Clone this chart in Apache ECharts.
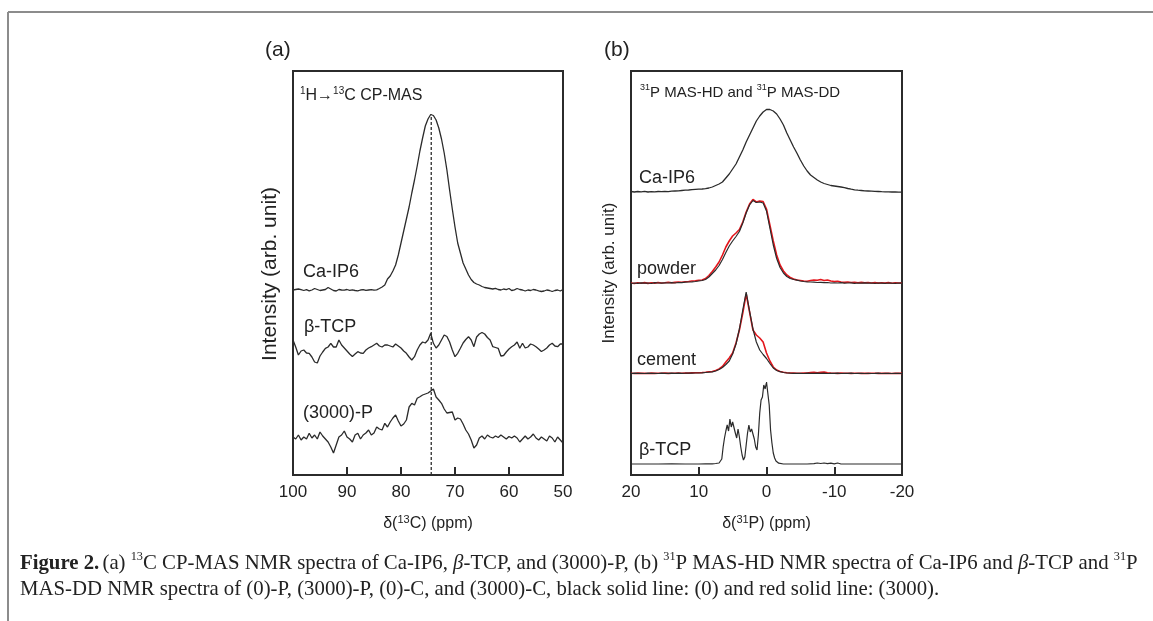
<!DOCTYPE html>
<html>
<head>
<meta charset="utf-8">
<script src="https://cdn.jsdelivr.net/npm/echarts@6/dist/echarts.min.js"></script>
<style>
html,body{margin:0;padding:0;background:#fff;}
#c{width:1153px;height:621px;}
</style>
</head>
<body>
<div id="c"></div>
<script>
// ---------- Panel (a): 13C CP-MAS, chemical shift (ppm) ----------
const ppmA = [
 100,99.5,99,98.5,98,97.5,97,96.5,96,95.5,
 95,94.5,94,93.5,93,92.5,92,91.5,91,90.5,
 90,89.5,89,88.5,88,87.5,87,86.5,86,85.5,
 85,84.5,84,83.5,83,82.5,82,81.5,81,80.5,
 80,79.5,79,78.5,78,77.5,77,76.5,76,75.5,
 75,74.5,74,73.5,73,72.5,72,71.5,71,70.5,
 70,69.5,69,68.5,68,67.5,67,66.5,66,65.5,
 65,64.5,64,63.5,63,62.5,62,61.5,61,60.5,
 60,59.5,59,58.5,58,57.5,57,56.5,56,55.5,
 55,54.5,54,53.5,53,52.5,52,51.5,51,50.5,
 50];
// stacked intensities (arb. unit, offset as in figure)
const caIP6_C = [
 185,185.5,186,185.3,184.5,185.3,184.2,185,186.5,185.5,
 184.5,185,185.5,187.5,186,184.5,184,185.5,185,184.8,
 185.5,184.7,185.2,184.5,184.2,185,185.3,184.6,185,185.3,
 184.8,185.2,186.5,188,190,196,199,204,210,220,
 232,244,256,268,282,295,309,324,337,349,
 356,360.5,359.5,355,347,336,322,305,285,266,
 248,232,222,212,206,200,195.5,192.5,191,190,
 188.5,187.5,187,186.5,186,186.7,185.5,185,186,185.3,
 186.5,184.5,185.2,186.5,185.5,185,184,185,184.5,185.5,
 185,184.2,183.5,184,185,184.5,183.5,184.5,185,184,
 185.5];
const bTCP_C = [
 135,128,120,124,125,122,121.7,118,113,112,
 119,123,126.7,128,131.7,128,128,135,130,127,
 124,121,118.5,121,123.3,122,121.7,125,127,128.3,
 130,131.7,129,128,130,130,129,128,131,129,
 127,124,121.7,118,115,118.3,125,130,133,132,
 135,141.7,131.7,127,130,135,140,138.5,133,125,
 118.3,121.7,126.7,132,135.5,138.3,135,128.3,138,141,
 142.5,141,137.5,135,128.3,127.5,126.7,119,119.5,123,
 126,128.3,130,133,126.7,131.7,127,128,131,130,
 128.3,126,123.5,125,127,130,131.7,129,128.3,131,
 131];
const p3000_C = [
 38,36,40,35,38,36,41.7,37,40,36,
 43,39,36,33,28,22,30,38,40,44,
 38,36,33,40,41.7,36,40,42,45,40,
 42,48,46,45,51.7,48,53,57,60,54,
 49,51,55,68,71.7,70,76.7,78.3,80,81,
 82,84,86,78,75,71.7,66,62,62.5,63,
 55,57,56,51,45,41,35,27,30,37,
 39,36,40,38,37,39,37.5,40,38,36,
 38.5,37,39,37,33,36,39,36,38,41,
 37,35,38,36,34,39,37,33,38,35,
 32];
const peakC = 74.4;          // dashed reference line position (ppm)
const peakCTop = 360.5;      // intensity at top of Ca-IP6 peak
const ticksA = [100, 90, 80, 70, 60, 50];

// ---------- Panel (b): 31P MAS, chemical shift (ppm) ----------
const ppmB = [
 20,19.5,19,18.5,18,17.5,17,16.5,16,15.5,
 15,14.5,14,13.5,13,12.5,12,11.5,11,10.5,
 10,9.5,9,8.5,8,7.5,7,6.5,6,5.5,
 5,4.5,4,3.5,3,2.5,2,1.5,1,0.5,
 0,-0.5,-1,-1.5,-2,-2.5,-3,-3.5,-4,-4.5,
 -5,-5.5,-6,-6.5,-7,-7.5,-8,-8.5,-9,-9.5,
 -10,-10.5,-11,-11.5,-12,-12.5,-13,-13.5,-14,-14.5,
 -15,-15.5,-16,-16.5,-17,-17.5,-18,-18.5,-19,-19.5,
 -20];
const caIP6_P = [
 283.5,283,283.5,283.2,283.6,283,283.4,283.2,283.5,283.3,
 283.6,283.4,283.8,284,284.2,284.5,284.8,285,285.3,285.6,
 285.8,286,286.4,287,288,289.5,291,293,297,301,
 306,311,318,325,333,340,347,354,359,363,
 365.5,365.5,364,361,356,350,342,335,328,321.7,
 315,309,304,300,297.5,295,293,291.5,290.5,289.5,
 289,288.5,288,287.3,286.5,285.8,285.2,284.8,284.5,284.2,
 284,283.8,283.6,283.5,283.3,283.2,283.1,283,283,282.8,
 282.8];
const powder0 = [
 191.5,192,191.6,192.2,191.8,192,191.5,192.3,192,191.8,
 192.2,192,192.4,192,192.5,192.3,192.8,193,193.2,193.5,
 194,194.5,195.5,198,201.5,205,209.5,215.5,222.5,229,
 234,238.5,243.5,252,262,270,274.5,272.5,273,272,
 264,247,230,216.5,207.5,202,198.5,196.5,195.5,194.8,
 194,193.5,193.2,193,192.8,192.5,192.7,192.3,192.5,192,
 192.2,192,192.3,191.8,192,192.2,191.7,192,191.9,192.1,
 191.8,192,191.7,192,191.9,191.6,192,191.8,191.7,192,
 191.8];
const powder3000 = [
 192,191.5,192.3,191.8,192.4,191.6,192.2,191.9,192.5,192,
 192.3,192.8,192.2,192.6,193,192.7,193.3,193.5,194,194.2,
 194.8,195,196.5,199.5,203.5,208,213,220,228,234,
 239,242,245.5,253,263,271,275.5,273,274,273.5,
 266,250,234,220,210,204,200,197.5,196,195,
 194.5,194,193.8,194.5,195,194.8,195.5,194.5,195,194,
 193.5,193.8,193,192.6,193,192.5,192.8,192.3,192.6,192.2,
 192.5,192,192.4,191.9,192.3,192,192.4,191.8,192.1,192,
 192];
const cement0 = [
 101.5,101.8,101.6,101.7,101.5,101.8,101.6,101.7,101.5,101.8,
 101.6,101.7,101.8,101.6,101.9,101.7,101.8,102,101.9,102,
 102,102.2,102.5,102.8,103.2,104,105.5,107.5,110.5,114,
 121,131,146,165,183,164,146,133,125,120.5,
 116.5,111.5,107,104.5,103.3,102.5,102,101.8,101.7,101.6,
 101.7,101.5,101.8,101.6,101.7,101.9,101.6,101.8,101.5,101.7,
 101.6,101.8,101.5,101.7,101.6,101.8,101.5,101.7,101.6,101.5,
 101.7,101.5,101.6,101.8,101.5,101.7,101.6,101.5,101.7,101.6,
 101.5];
const cement3000 = [
 101.8,101.5,101.9,101.6,101.8,101.5,101.9,101.6,101.8,101.7,
 101.9,101.6,101.8,101.7,102,101.8,102,101.9,102.1,102.2,
 102.3,102.5,102.8,103.2,103.5,104.5,106,108.5,113,117,
 122,132,145,162,181,163,145,140,137,133,
 122,114,108,105,103.5,102.8,102.3,102,101.9,101.8,
 101.7,101.9,102,102.4,102.8,102.3,102.6,102.9,102.2,101.9,
 101.8,101.6,101.9,101.7,101.8,101.6,101.7,101.8,101.6,101.7,
 101.6,101.8,101.7,101.6,101.8,101.6,101.7,101.5,101.7,101.6,
 101.6];
const ppmTcpP = [
 20,18,16,14,12,10,9,8,7.5,7,
 6.8,6.6,6.4,6.2,6.0,5.8,5.6,5.4,5.2,5.0,
 4.8,4.6,4.4,4.2,4.0,3.8,3.6,3.4,3.2,3.0,
 2.8,2.6,2.4,2.2,2.0,1.8,1.6,1.4,1.2,1.0,
 0.8,0.6,0.4,0.2,0.0,-0.2,-0.4,-0.6,-0.8,-1.0,
 -1.2,-1.4,-1.6,-1.8,-2.0,-2.5,-3,-4,-5,-6,
 -7,-7.5,-8,-8.5,-9,-9.5,-10,-10.5,-11,-12,
 -14,-16,-18,-20];
const bTCP_P = [
 11,11,11,11.2,11,11,11.2,11.2,11.5,12,
 13,16,28,37,44,50,44,56,48,53,
 55,42,37,46,38,28,20,15,18,30,
 42,50,43,46,45,36,28,25,40,62,
 75,78,90,86,93,91,70,45,32,22,
 17,14,12.5,11.8,11.3,11,11,11,11,11,
 11.3,12,11.5,12,11.3,11.8,11.2,12,11,11,
 11,11,11,11];
const ticksB = [20, 10, 0, -10, -20];

// ---------- labels ----------
const panelLabels = ['(a)', '(b)'];
const traceLabelsA = ['Ca-IP6', 'β-TCP', '(3000)-P'];
const traceLabelsB = ['Ca-IP6', 'powder', 'cement', 'β-TCP'];
const yTitle = 'Intensity (arb. unit)';
const caption1 = '{b|Figure 2.} {n|(a) }{s|13}{n|C CP-MAS NMR spectra of Ca-IP6, }{i|β}{n|-TCP, and (3000)-P, (b) }{s|31}{n|P MAS-HD NMR spectra of Ca-IP6 and }{i|β}{n|-TCP and }{s|31}{n|P}';
const caption2 = '{n|MAS-DD NMR spectra of (0)-P, (3000)-P, (0)-C, and (3000)-C, black solid line: (0) and red solid line: (3000).}';

const zip = (xs, ys) => xs.map((x, i) => [x, ys[i]]);

const BLACK = '#2b2b2b';
const RED = '#e3161c';
const SANS = '"Liberation Sans", Arial, sans-serif';
const SERIF = '"Liberation Serif", "Times New Roman", serif';

const chart = echarts.init(document.getElementById('c'), null, {renderer: 'canvas'});

const gridA = {left: 293, top: 71, width: 270, height: 404};
const gridB = {left: 631, top: 71, width: 271, height: 404};

function xAxisOf(gridIndex, min, max, nameRich) {
  return {
    type: 'value', gridIndex, min, max, interval: 10, inverse: true,
    axisLine: {show: true, onZero: false, lineStyle: {color: BLACK, width: 2}},
    axisTick: {show: true, inside: true, length: 8, lineStyle: {color: BLACK, width: 2}},
    axisLabel: {show: true, fontFamily: SANS, fontSize: 17, color: '#222', margin: 9},
    splitLine: {show: false},
    name: nameRich, nameLocation: 'middle', nameGap: 39,
    nameTextStyle: {
      rich: {
        n: {fontFamily: SANS, fontSize: 16, color: '#222', lineHeight: 20},
        s: {fontFamily: SANS, fontSize: 11, color: '#222', lineHeight: 20, verticalAlign: 'top'}
      }
    }
  };
}
function yAxisOf(gridIndex) {
  return {type: 'value', gridIndex, min: 0, max: 404, show: false};
}

function series(name, xi, yi, data, color, width, z) {
  return {
    name, type: 'line', xAxisIndex: xi, yAxisIndex: yi, data,
    showSymbol: false, symbol: 'none', smooth: false,
    lineStyle: {color, width}, itemStyle: {color},
    z: z || 2, silent: true, animation: false
  };
}

function textEl(x, y, text, size) {
  return {
    type: 'text', x, y, silent: true,
    style: {text, fontFamily: SANS, fontSize: size, fill: '#222', align: 'left', verticalAlign: 'middle'}
  };
}

const supRich = (size) => ({
  n: {fontFamily: SANS, fontSize: size, fill: '#222', lineHeight: size + 4},
  s: {fontFamily: SANS, fontSize: Math.round(size * 0.62), fill: '#222', lineHeight: size + 4, verticalAlign: 'top'}
});

const capRich = {
  b: {fontFamily: SERIF, fontWeight: 'bold', fontSize: 22, fill: '#222', lineHeight: 26},
  n: {fontFamily: SERIF, fontSize: 22, fill: '#222', lineHeight: 26},
  i: {fontFamily: SERIF, fontStyle: 'italic', fontSize: 22, fill: '#222', lineHeight: 26},
  s: {fontFamily: SERIF, fontSize: 13, fill: '#222', lineHeight: 26, verticalAlign: 'top'}
};

const option = {
  animation: false,
  backgroundColor: '#fff',
  grid: [
    Object.assign({show: true, borderColor: BLACK, borderWidth: 2, backgroundColor: 'transparent'}, gridA),
    Object.assign({show: true, borderColor: BLACK, borderWidth: 2, backgroundColor: 'transparent'}, gridB)
  ],
  xAxis: [
    xAxisOf(0, 50, 100, '{n|δ(}{s|13}{n|C) (ppm)}'),
    xAxisOf(1, -20, 20, '{n|δ(}{s|31}{n|P) (ppm)}')
  ],
  yAxis: [yAxisOf(0), yAxisOf(1)],
  series: [
    series('Ca-IP6 13C', 0, 0, zip(ppmA, caIP6_C), BLACK, 1.3),
    series('b-TCP 13C', 0, 0, zip(ppmA, bTCP_C), BLACK, 1.3),
    series('(3000)-P 13C', 0, 0, zip(ppmA, p3000_C), BLACK, 1.3),
    {
      name: 'ref', type: 'line', xAxisIndex: 0, yAxisIndex: 0,
      data: [[peakC, 0], [peakC, peakCTop]], showSymbol: false, symbol: 'none',
      lineStyle: {color: BLACK, width: 1.3, type: [3, 2]}, silent: true, z: 3
    },
    series('Ca-IP6 31P', 1, 1, zip(ppmB, caIP6_P), BLACK, 1.3),
    series('powder (3000)', 1, 1, zip(ppmB, powder3000), RED, 1.6, 2),
    series('powder (0)', 1, 1, zip(ppmB, powder0), BLACK, 1.2, 3),
    series('cement (3000)', 1, 1, zip(ppmB, cement3000), RED, 1.6, 2),
    series('cement (0)', 1, 1, zip(ppmB, cement0), BLACK, 1.2, 3),
    series('b-TCP 31P', 1, 1, zip(ppmTcpP, bTCP_P), BLACK, 1.2)
  ],
  graphic: [
    {type: 'line', shape: {x1: 8, y1: 12, x2: 1153, y2: 12}, style: {stroke: '#8c8c8c', lineWidth: 2}, silent: true},
    {type: 'line', shape: {x1: 8, y1: 12, x2: 8, y2: 621}, style: {stroke: '#8c8c8c', lineWidth: 2}, silent: true},
    textEl(265, 50, panelLabels[0], 21),
    textEl(604, 50, panelLabels[1], 21),
    {type: 'text', x: 270, y: 274, rotation: Math.PI / 2, silent: true,
      style: {text: yTitle, fontFamily: SANS, fontSize: 21, fill: '#222', align: 'center', verticalAlign: 'middle'}},
    {type: 'text', x: 609, y: 273, rotation: Math.PI / 2, silent: true,
      style: {text: yTitle, fontFamily: SANS, fontSize: 17, fill: '#222', align: 'center', verticalAlign: 'middle'}},
    {type: 'text', x: 300, y: 96, silent: true,
      style: {text: '{s|1}{n|H→}{s|13}{n|C CP-MAS}', rich: supRich(16), align: 'left', verticalAlign: 'middle'}},
    {type: 'text', x: 640, y: 93, silent: true,
      style: {text: '{s|31}{n|P MAS-HD and }{s|31}{n|P MAS-DD}', rich: supRich(15), align: 'left', verticalAlign: 'middle'}},
    textEl(303, 272, traceLabelsA[0], 18),
    textEl(304, 327, traceLabelsA[1], 18),
    textEl(303, 413, traceLabelsA[2], 18),
    textEl(639, 178, traceLabelsB[0], 18),
    textEl(637, 269, traceLabelsB[1], 18),
    textEl(637, 360, traceLabelsB[2], 18),
    textEl(639, 450, traceLabelsB[3], 18),
    {type: 'text', x: 20, y: 563, scaleX: 0.945, silent: true,
      style: {text: caption1, align: 'left', verticalAlign: 'middle', rich: capRich}},
    {type: 'text', x: 20, y: 589, scaleX: 0.945, silent: true,
      style: {text: caption2, align: 'left', verticalAlign: 'middle', rich: capRich}}
  ]
};
chart.setOption(option);
</script>
</body>
</html>
